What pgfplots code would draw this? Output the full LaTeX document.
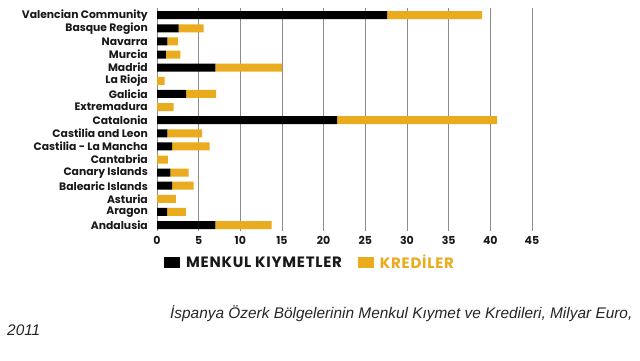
\documentclass[border=0pt]{standalone}
\usepackage{fontspec}
\setmainfont{Liberation Sans}
\newfontfamily\gotham{Poppins}
\newfontfamily\gothamwide[LetterSpace=5]{Poppins}
\usepackage{pgfplots}
\usepackage{pgfplotstable}
\pgfplotsset{compat=1.18}
\definecolor{gold}{RGB}{234,172,30}
\pgfplotstableread{
y sec kred
0 7.0 6.75
1 1.2 2.25
2 0 2.25
3 1.8 2.6
4 1.6 2.2
5 0 1.3
6 1.8 4.5
7 1.25 4.15
8 21.6 19.2
9 0 2.0
10 3.5 3.6
11 0 0.9
12 7.0 8.0
13 1.05 1.75
14 1.25 1.25
15 2.6 3.0
16 27.6 11.4
}\datatable
\begin{document}
\begin{tikzpicture}
\path[use as bounding box, fill=white] (0,0) rectangle (640pt,360pt);
\begin{axis}[
 at={(157pt,352pt)}, anchor=north west,
 scale only axis, width=375pt, height=223pt,
 xbar stacked, bar width=8pt,
 xmin=0, xmax=45, ymin=-0.45, ymax=16.55,
 xtick={0,5,...,45},
 ytick={0,...,16},
 yticklabels={Andalusia,Aragon,Asturia,Balearic Islands,Canary Islands,Cantabria,Castilia - La Mancha,Castilia and Leon,Catalonia,Extremadura,Galicia,La Rioja,Madrid,Murcia,Navarra,Basque Region,Valencian Community},
 axis line style={draw=none},
 major tick length=0pt,
 xmajorgrids, grid style={black!45, line width=0.8pt},
 /pgf/number format/assume math mode=true,
 xticklabel style={font=\gotham\bfseries\fontsize{11}{13}\selectfont, text=black!90, yshift=-2pt},
 yticklabel style={font=\gotham\bfseries\fontsize{10.8}{12}\selectfont, text=black!90, inner xsep=0pt, xshift=-9pt},
 legend columns=2,
 legend style={draw=none, at={(0,0)}, anchor=north west, xshift=4pt, yshift=-20pt,
   font=\gothamwide\bfseries\fontsize{15}{16}\selectfont, text=black!90,
   nodes={inner xsep=6pt},
   /tikz/every even column/.append style={column sep=10pt}},
 legend cell align=left,
]
\addplot[fill=black, draw=none, legend image code/.code={\fill[black] (0pt,-5.5pt) rectangle (16pt,5.5pt);}] table[x=sec, y=y] {\datatable};
\addlegendentry{MENKUL KIYMETLER}
\addplot[fill=gold, draw=none, legend image code/.code={\fill[gold] (0pt,-5.5pt) rectangle (16pt,5.5pt);}] table[x=kred, y=y] {\datatable};
\addlegendentry{\textcolor{gold}{KREDİLER}}
\end{axis}
\node[anchor=west, font=\itshape\fontsize{15.4}{17}\selectfont, text=black!85, inner sep=0pt] at (170pt,46pt) {İspanya Özerk Bölgelerinin Menkul Kıymet ve Kredileri, Milyar Euro,};
\node[anchor=west, font=\itshape\fontsize{15.4}{17}\selectfont, text=black!85, inner sep=0pt] at (7pt,30pt) {2011};
\end{tikzpicture}
\end{document}
